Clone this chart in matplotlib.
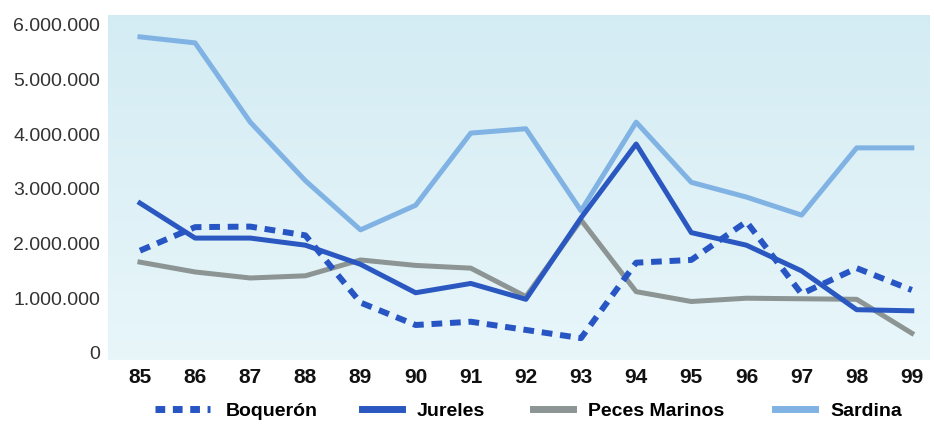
import matplotlib
matplotlib.use("Agg")
import matplotlib.pyplot as plt
import numpy as np
from matplotlib.lines import Line2D
from matplotlib.ticker import FuncFormatter

plt.rcParams['font.family'] = ['Liberation Sans', 'DejaVu Sans']

years = [85, 86, 87, 88, 89, 90, 91, 92, 93, 94, 95, 96, 97, 98, 99]
year_labels = [str(y) for y in years]
boqueron = [1.87, 2.30, 2.31, 2.15, 0.92, 0.51, 0.57, 0.42, 0.27, 1.65, 1.70, 2.40, 1.08, 1.55, 1.15]
jureles = [2.74, 2.10, 2.10, 1.97, 1.62, 1.10, 1.27, 0.98, 2.47, 3.82, 2.20, 1.97, 1.50, 0.79, 0.77]
peces = [1.66, 1.48, 1.37, 1.41, 1.70, 1.60, 1.55, 1.03, 2.43, 1.12, 0.94, 1.00, 0.99, 0.98, 0.36]
sardina = [5.78, 5.67, 4.22, 3.15, 2.25, 2.70, 4.02, 4.10, 2.60, 4.22, 3.12, 2.85, 2.52, 3.75, 3.75]
scale = 1_000_000
yticks = [0, 1, 2, 3, 4, 5, 6]
labels = ['Boquerón', 'Jureles', 'Peces Marinos', 'Sardina']

c_boq = '#2756c4'
c_jur = '#2a58c0'
c_pec = '#8c9593'
c_sar = '#80b3e3'

W, H = 934, 432
fig = plt.figure(figsize=(W / 100, H / 100), dpi=100)
ax = fig.add_axes([108 / W, 1 - 360 / H, (930 - 108) / W, (360 - 15) / H])

xmin, xmax = 84.42, 99.33
ymin, ymax = -0.13 * scale, 6.18 * scale
ax.set_xlim(xmin, xmax)
ax.set_ylim(ymin, ymax)

# gradient background
grad = np.linspace(0, 1, 256).reshape(-1, 1)
top = np.array([0.83, 0.925, 0.955])
bot = np.array([0.91, 0.965, 0.98])
img = top[None, None, :] * (1 - grad[:, :, None]) + bot[None, None, :] * grad[:, :, None]
ax.imshow(img, extent=[xmin, xmax, ymin, ymax], aspect='auto', origin='upper', zorder=0)

xs = np.array(years)
lw = 3.6
ax.plot(xs, np.array(sardina) * scale, color=c_sar, lw=lw, zorder=2)
ax.plot(xs, np.array(peces) * scale, color=c_pec, lw=lw, zorder=3)
ax.plot(xs, np.array(jureles) * scale, color=c_jur, lw=lw, zorder=4)
ax.plot(xs, np.array(boqueron) * scale, color=c_boq, lw=4.3, dashes=(1.8, 1.3), zorder=5)

for s in ax.spines.values():
    s.set_visible(False)
ax.set_xticks(years)
ax.set_xticklabels(year_labels, fontsize=15, fontweight='bold', color='#111111')
ax.set_yticks([v * scale for v in yticks])
ax.yaxis.set_major_formatter(FuncFormatter(lambda v, p: f"{int(round(v)):,}".replace(',', '.')))
ax.tick_params(axis='both', length=0)
ax.tick_params(axis='y', labelsize=14, labelcolor='#333333', pad=5.5)
ax.tick_params(axis='x', pad=6)

handles = [
    Line2D([], [], color=c_boq, lw=5.0, dashes=(1.4, 1.1)),
    Line2D([], [], color=c_jur, lw=5.0),
    Line2D([], [], color=c_pec, lw=5.0),
    Line2D([], [], color=c_sar, lw=5.0),
]
starts = [155, 362, 533, 775]
hlens = [2.85, 2.06, 2.06, 2.06]
for h, lab, x0, hl in zip(handles, labels, starts, hlens):
    fig.legend([h], [lab], loc='center left', bbox_to_anchor=(x0 / W, 1 - 411 / H),
               frameon=False, handlelength=hl, handletextpad=0.77, borderpad=0,
               borderaxespad=0, prop={'weight': 'bold', 'size': 14})

fig.savefig('out.png', dpi=100)
